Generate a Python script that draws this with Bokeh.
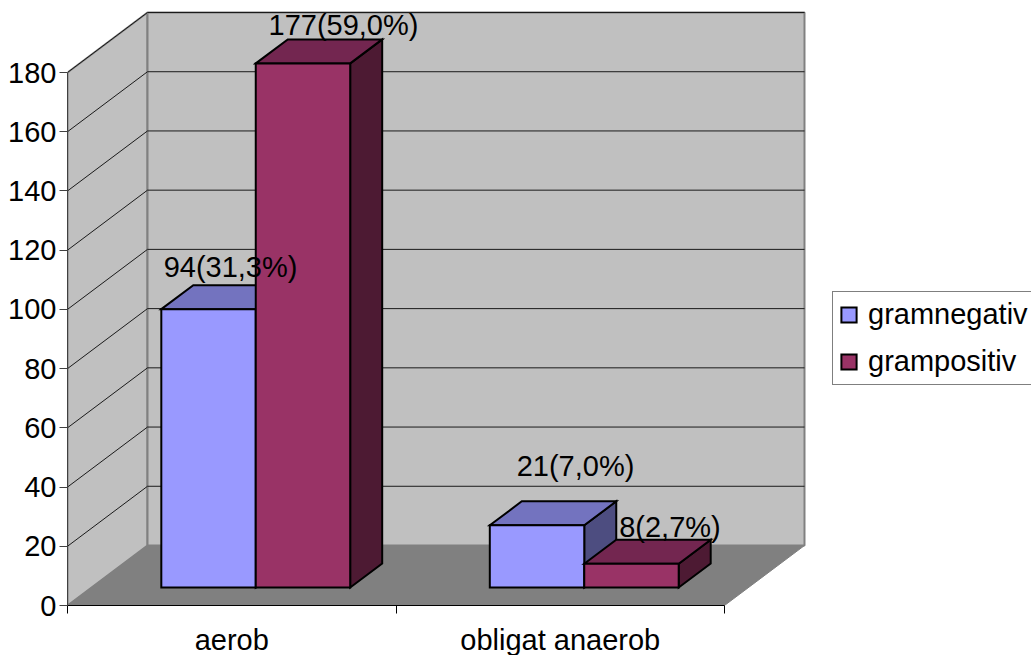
from bokeh.plotting import figure
from bokeh.models import FixedTicker, Legend, LegendItem, ColumnDataSource
from bokeh.core.properties import value
from bokeh.embed import file_html
from bokeh.resources import INLINE

categories = ["aerob", "obligat anaerob"]
series = ["gramnegativ", "grampositiv"]
gramnegativ = [94, 21]
grampositiv = [177, 8]
labels_neg = ["94(31,3%)", "21(7,0%)"]
labels_pos = ["177(59,0%)", "8(2,7%)"]
y_ticks = [0, 20, 40, 60, 80, 100, 120, 140, 160, 180]

FONT = "Liberation Sans"
FS = "29px"
PX_X = 328.5          # pixels per category
PX_Y = 533 / 180      # pixels per value unit
DX = 80 / PX_X        # full chart depth, x component in category units
DY = 60 / PX_Y        # full chart depth, y component in value units
YMAX = 180
NCAT = len(categories)
FRAME_W, FRAME_H = 964, 597
D0, D1 = 0.3, 0.7     # front and back depth of the bars
BAR = 0.2875          # bar width in category units


def proj(x, y, depth):
    return x + DX * depth, y + DY * depth


def poly(points):
    pts = [proj(*q) for q in points]
    return [a for a, _ in pts], [b for _, b in pts]


p = figure(width=1031, height=655, output_backend="svg", toolbar_location=None,
           x_range=(0, FRAME_W / PX_X), y_range=(0, FRAME_H / PX_Y),
           min_border_left=67, min_border_right=0, min_border_top=8, min_border_bottom=50,
           frame_width=FRAME_W, frame_height=FRAME_H)
p.outline_line_color = None
p.grid.visible = False
p.background_fill_color = "white"

# walls and floor
WALL_EDGE = "#808080"
side = poly([(0, 0, 0), (0, 0, 1), (0, YMAX, 1), (0, YMAX, 0)])
back = poly([(0, 0, 1), (0, YMAX, 1), (NCAT, YMAX, 1), (NCAT, 0, 1)])
floor = poly([(0, 0, 0), (0, 0, 1), (NCAT, 0, 1), (NCAT, 0, 0)])
p.patch(*side, fill_color="#C0C0C0", line_color=WALL_EDGE, line_width=2)
p.patch(*back, fill_color="#C0C0C0", line_color=WALL_EDGE, line_width=2)
p.patch(*floor, fill_color="#808080", line_color="#808080", line_width=1)

# gridlines on the side wall and the back wall
gx, gy = [], []
for t in y_ticks[1:]:
    a = proj(0, t, 0)
    b = proj(0, t, 1)
    c = proj(NCAT, t, 1)
    gx.append([a[0], b[0], c[0]])
    gy.append([a[1], b[1], c[1]])
p.multi_line(gx, gy, line_color="#1a1a1a", line_width=1)

# bars
FACE = {
    "gramnegativ": ("#9999FF", "#7373BF", "#4D4D80"),
    "grampositiv": ("#993366", "#732650", "#4D1A33"),
}
front_renderers = {}
for s_i, (name, vals) in enumerate(zip(series, [gramnegativ, grampositiv])):
    front_c, top_c, side_c = FACE[name]
    fr, tp, sd = ([], []), ([], []), ([], [])
    for c_i, v in enumerate(vals):
        x0 = c_i + 0.5 - BAR + BAR * s_i
        x1 = x0 + BAR
        for store, pts in (
            (sd, [(x1, 0, D0), (x1, 0, D1), (x1, v, D1), (x1, v, D0)]),
            (tp, [(x0, v, D0), (x0, v, D1), (x1, v, D1), (x1, v, D0)]),
            (fr, [(x0, 0, D0), (x1, 0, D0), (x1, v, D0), (x0, v, D0)]),
        ):
            xs, ys = poly(pts)
            store[0].append(xs)
            store[1].append(ys)
    kw = dict(line_color="black", line_width=2, line_join="miter")
    p.patches(sd[0], sd[1], fill_color=side_c, **kw)
    p.patches(tp[0], tp[1], fill_color=top_c, **kw)
    front_renderers[name] = p.patches(fr[0], fr[1], fill_color=front_c, **kw)

# data labels, with the hand-placed pixel offsets of the original
label_dx = [[22, 38.5], [40.5, 38.5]]
label_dy = [[42, 59], [38, 37]]
for s_i, (vals, txts) in enumerate(zip([gramnegativ, grampositiv], [labels_neg, labels_pos])):
    xs, ys = [], []
    for c_i, v in enumerate(vals):
        x0 = c_i + 0.5 - BAR + BAR * s_i + BAR / 2
        a = proj(x0, v, D0)
        xs.append(a[0])
        ys.append(a[1])
    src = ColumnDataSource(dict(x=xs, y=ys, t=txts,
                                xo=label_dx[s_i], yo=[-d for d in label_dy[s_i]]))
    p.text("x", "y", text="t", source=src, x_offset="xo", y_offset="yo",
           text_font=value(FONT), text_font_size=value(FS), text_color="black",
           text_align="center", text_baseline="alphabetic")

# axes
ya = p.yaxis[0]
ya.ticker = FixedTicker(ticks=y_ticks)
ya.bounds = (0, YMAX)
ya.minor_tick_line_color = None
ya.major_tick_in = 0
ya.major_tick_out = 8
ya.major_label_standoff = 3
ya.major_label_text_font = FONT
ya.major_label_text_font_size = FS
ya.major_label_text_color = "black"
ya.axis_line_color = "#404040"
ya.major_tick_line_color = "#404040"

xa = p.xaxis[0]
centers = [i + 0.5 for i in range(NCAT)]
xa.ticker = FixedTicker(ticks=centers, minor_ticks=list(range(NCAT + 1)))
xa.major_label_overrides = dict(zip(centers, categories))
xa.bounds = (0, NCAT)
xa.major_tick_in = 0
xa.major_tick_out = 0
xa.minor_tick_in = 0
xa.minor_tick_out = 8
xa.minor_tick_line_color = "black"
xa.major_label_standoff = 10
xa.major_label_text_font = FONT
xa.major_label_text_font_size = FS
xa.major_label_text_color = "black"
xa.axis_line_color = "black"

legend = Legend(items=[LegendItem(label=n, renderers=[front_renderers[n]]) for n in series],
                location=(765, 220), orientation="vertical", margin=0, padding=6,
                spacing=14, glyph_width=19, glyph_height=19, label_height=30,
                label_standoff=10, label_text_font=FONT, label_text_font_size=FS,
                label_text_color="black", border_line_color="black", border_line_width=1,
                background_fill_color="white", background_fill_alpha=1)
p.add_layout(legend, "center")

open("out.html", "w").write(file_html(p, INLINE))
